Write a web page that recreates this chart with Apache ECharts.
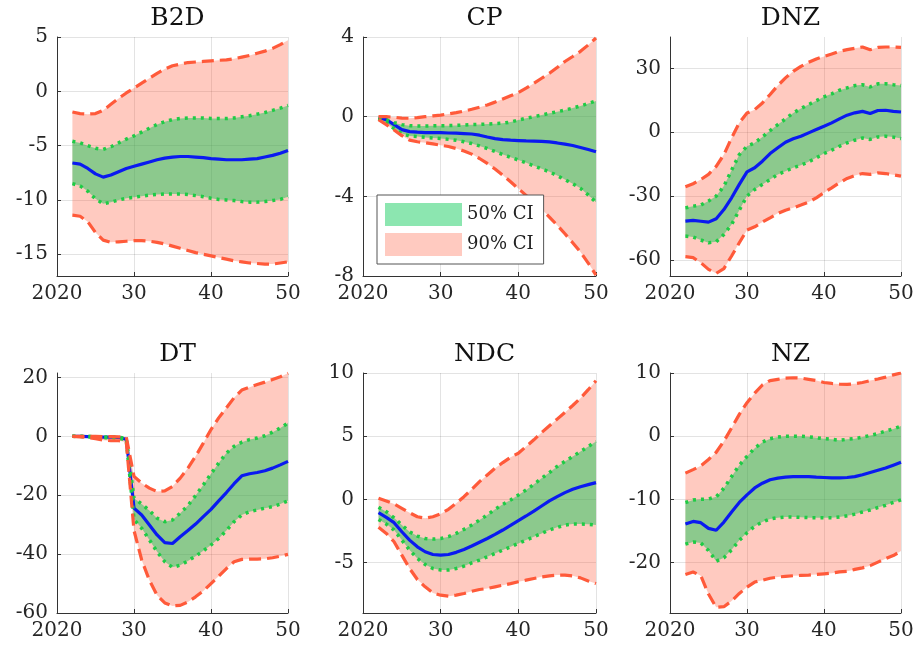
<!DOCTYPE html>
<html><head><meta charset="utf-8">
<script src="https://cdn.jsdelivr.net/npm/echarts@6/dist/echarts.min.js"></script>
<style>html,body{margin:0;padding:0;background:#fff}#c{width:917px;height:645px}</style>
</head><body><div id="c"></div>
<script>
// ---------- data ----------
const years = [2022,2023,2024,2025,2026,2027,2028,2029,2030,2031,2032,2033,2034,2035,2036,2037,2038,2039,2040,2041,2042,2043,2044,2045,2046,2047,2048,2049,2050];
const titles = ['B2D','CP','DNZ','DT','NDC','NZ'];
const xTicks = [2020,2030,2040,2050];

// B2D
const b2dMedian = [-6.6,-6.7,-7.1,-7.6,-7.9,-7.7,-7.4,-7.1,-6.9,-6.7,-6.5,-6.3,-6.15,-6.05,-6.0,-6.0,-6.05,-6.1,-6.2,-6.25,-6.3,-6.3,-6.3,-6.25,-6.2,-6.05,-5.9,-5.7,-5.45];
const b2dHi50 = [-4.6,-4.75,-5.0,-5.25,-5.35,-5.1,-4.75,-4.4,-4.1,-3.75,-3.4,-3.05,-2.8,-2.6,-2.5,-2.45,-2.45,-2.45,-2.5,-2.5,-2.5,-2.45,-2.35,-2.25,-2.1,-1.95,-1.75,-1.55,-1.3];
const b2dLo50 = [-8.5,-8.7,-9.2,-9.9,-10.35,-10.2,-10.0,-9.85,-9.75,-9.65,-9.55,-9.5,-9.45,-9.45,-9.45,-9.5,-9.6,-9.7,-9.85,-9.95,-10.0,-10.05,-10.15,-10.2,-10.2,-10.15,-10.05,-9.95,-9.7];
const b2dHi90 = [-1.9,-2.05,-2.1,-2.05,-1.75,-1.2,-0.65,-0.15,0.3,0.75,1.2,1.65,2.05,2.35,2.5,2.65,2.7,2.75,2.8,2.85,2.9,3.0,3.15,3.3,3.5,3.7,3.95,4.3,4.7];
const b2dLo90 = [-11.4,-11.5,-12.0,-13.0,-13.7,-13.9,-13.85,-13.8,-13.75,-13.75,-13.8,-13.9,-14.05,-14.25,-14.45,-14.65,-14.85,-15.0,-15.15,-15.3,-15.45,-15.6,-15.7,-15.8,-15.85,-15.9,-15.9,-15.8,-15.7];

// CP
const cpMedian = [-0.05,-0.15,-0.4,-0.65,-0.75,-0.78,-0.8,-0.8,-0.8,-0.82,-0.83,-0.85,-0.87,-0.93,-1.02,-1.1,-1.15,-1.18,-1.2,-1.22,-1.23,-1.24,-1.27,-1.32,-1.38,-1.45,-1.55,-1.65,-1.76];
const cpHi50 = [-0.05,-0.15,-0.3,-0.4,-0.45,-0.47,-0.47,-0.46,-0.45,-0.45,-0.44,-0.42,-0.4,-0.39,-0.37,-0.35,-0.33,-0.27,-0.17,-0.08,0.0,0.08,0.17,0.25,0.33,0.43,0.54,0.66,0.79];
const cpLo50 = [-0.1,-0.3,-0.6,-0.85,-0.97,-1.0,-1.04,-1.07,-1.1,-1.14,-1.18,-1.26,-1.35,-1.47,-1.6,-1.75,-1.9,-2.04,-2.18,-2.32,-2.47,-2.62,-2.77,-2.96,-3.16,-3.37,-3.6,-3.93,-4.3];
const cpHi90 = [0.0,0.0,-0.03,-0.07,-0.08,-0.05,0.0,0.04,0.08,0.14,0.2,0.28,0.37,0.47,0.59,0.73,0.89,1.05,1.21,1.43,1.68,1.93,2.18,2.47,2.77,3.02,3.28,3.6,3.95];
const cpLo90 = [-0.15,-0.4,-0.67,-0.95,-1.18,-1.26,-1.31,-1.37,-1.43,-1.5,-1.6,-1.72,-1.88,-2.1,-2.35,-2.63,-2.94,-3.27,-3.61,-3.95,-4.29,-4.65,-5.04,-5.45,-5.88,-6.33,-6.8,-7.35,-7.95];

// DNZ
const dnzMedian = [-41.7,-41.4,-41.8,-42.2,-40.6,-36.3,-30.8,-24.5,-18.6,-16.7,-13.6,-10.0,-7.3,-4.7,-3.1,-1.9,-0.3,1.25,2.8,4.4,6.25,8.0,9.1,9.8,8.75,10.2,10.3,9.8,9.5];
const dnzHi50 = [-35.5,-34.7,-34.2,-32.3,-30.0,-25.3,-17.8,-10.5,-6.6,-5.0,-2.2,0.8,3.6,6.25,9.0,11.1,13.0,14.8,16.6,18.0,19.7,20.8,21.9,22.3,21.25,22.7,22.8,22.3,21.9];
const dnzLo50 = [-48.75,-49.2,-50.6,-51.9,-51.4,-48.0,-43.3,-36.6,-30.0,-26.9,-24.5,-22.2,-19.8,-18.3,-16.7,-15.5,-13.9,-12.0,-10.0,-8.4,-6.6,-5.0,-3.75,-2.7,-3.4,-2.2,-1.9,-2.3,-3.0];
const dnzHi90 = [-25.6,-24.2,-22.2,-19.8,-16.0,-10.5,-2.7,4.4,9.0,10.6,13.75,17.7,21.9,25.5,28.6,30.9,32.8,34.4,35.6,36.7,38.0,38.75,39.4,40.0,38.75,39.8,40.0,40.0,39.8];
const dnzLo90 = [-58.4,-58.9,-61.25,-64.4,-66.25,-64.0,-58.1,-51.9,-45.9,-44.4,-42.2,-40.2,-38.1,-36.6,-35.5,-34.2,-32.8,-30.8,-28.4,-26.1,-23.75,-21.7,-20.3,-19.4,-19.8,-19.1,-19.4,-20.0,-20.6];

// DT
const dtMedian = [0,0,-0.1,-0.2,-0.3,-0.3,-0.4,-1.0,-24.4,-26.7,-30.1,-33.5,-36.1,-36.4,-34.1,-32.0,-29.8,-27.3,-24.8,-21.9,-19.1,-16.1,-13.4,-12.7,-12.3,-11.7,-10.8,-9.7,-8.5];
const dtHi50 = [0,0,0,-0.1,-0.2,-0.2,-0.3,-0.7,-21.0,-23.0,-25.2,-27.8,-29.0,-28.4,-26.1,-23.5,-20.1,-16.5,-12.7,-9.1,-5.7,-3.4,-2.0,-1.1,-0.6,0.2,1.4,2.8,4.5];
const dtLo50 = [0,-0.1,-0.2,-0.3,-0.5,-0.5,-0.6,-1.3,-28.2,-31.25,-35.2,-39.2,-42.6,-44.5,-43.75,-42.3,-40.7,-38.9,-36.9,-34.7,-32.0,-29.0,-26.7,-25.6,-25.0,-24.4,-23.9,-23.0,-21.9];
const dtHi90 = [0,0,0,0,-0.1,-0.1,-0.2,-0.3,-13.6,-15.9,-17.6,-18.75,-18.5,-17.0,-14.2,-10.8,-6.8,-2.3,2.3,6.25,9.7,13.1,15.7,16.7,17.6,18.4,19.3,20.2,21.4];
const dtLo90 = [0,-0.2,-0.4,-0.8,-1.3,-1.5,-1.5,-2.0,-32.0,-42.0,-48.9,-54.0,-56.6,-57.6,-57.4,-56.25,-54.5,-52.5,-50.0,-47.5,-44.9,-42.6,-41.8,-41.7,-41.7,-41.6,-41.25,-40.7,-40.1];

// NDC
const ndcMedian = [-1.06,-1.43,-1.85,-2.57,-3.23,-3.76,-4.15,-4.37,-4.42,-4.37,-4.2,-3.97,-3.7,-3.4,-3.1,-2.78,-2.43,-2.06,-1.69,-1.32,-0.93,-0.53,-0.13,0.21,0.53,0.79,1.0,1.16,1.32];
const ndcHi50 = [-0.63,-0.98,-1.46,-2.04,-2.57,-2.91,-3.1,-3.15,-3.1,-2.96,-2.7,-2.38,-2.04,-1.64,-1.24,-0.79,-0.4,-0.05,0.34,0.74,1.19,1.67,2.12,2.6,3.0,3.39,3.78,4.18,4.58];
const ndcLo50 = [-1.59,-1.96,-2.43,-3.23,-4.02,-4.68,-5.16,-5.48,-5.6,-5.6,-5.48,-5.29,-5.03,-4.81,-4.55,-4.29,-4.02,-3.76,-3.49,-3.23,-2.96,-2.7,-2.43,-2.22,-2.04,-1.96,-1.96,-1.98,-2.04];
const ndcHi90 = [0.08,-0.13,-0.37,-0.71,-1.06,-1.38,-1.5,-1.38,-1.16,-0.79,-0.32,0.21,0.79,1.4,1.93,2.46,2.91,3.33,3.65,4.18,4.71,5.29,5.82,6.35,6.88,7.43,8.0,8.68,9.39];
const ndcLo90 = [-2.22,-2.7,-3.36,-4.42,-5.48,-6.35,-6.93,-7.41,-7.59,-7.67,-7.59,-7.46,-7.28,-7.14,-7.06,-6.93,-6.8,-6.67,-6.53,-6.4,-6.27,-6.14,-6.06,-6.0,-6.0,-6.06,-6.22,-6.46,-6.67];

// NZ
const nzMedian = [-13.9,-13.5,-13.7,-14.6,-14.9,-13.6,-12.0,-10.5,-9.3,-8.2,-7.45,-6.9,-6.65,-6.5,-6.4,-6.4,-6.4,-6.5,-6.55,-6.6,-6.6,-6.55,-6.4,-6.1,-5.75,-5.4,-5.05,-4.6,-4.15];
const nzHi50 = [-10.5,-10.1,-10.0,-9.95,-9.6,-8.25,-6.4,-4.6,-3.2,-1.9,-0.95,-0.4,-0.15,0.0,0.0,0.0,-0.1,-0.25,-0.4,-0.5,-0.65,-0.5,-0.4,-0.15,0.1,0.4,0.8,1.15,1.6];
const nzLo50 = [-17.1,-16.75,-16.9,-18.1,-19.8,-19.25,-18.0,-16.5,-15.3,-14.25,-13.6,-13.1,-12.9,-12.8,-12.8,-12.85,-12.9,-12.9,-12.9,-12.9,-12.8,-12.6,-12.35,-12.0,-11.7,-11.3,-10.95,-10.5,-10.1];
const nzHi90 = [-5.85,-5.3,-4.7,-3.7,-2.55,-0.8,1.3,3.45,5.3,6.8,8.1,8.8,9.0,9.2,9.25,9.2,9.0,8.8,8.5,8.35,8.25,8.2,8.3,8.5,8.8,9.05,9.35,9.7,10.0];
const nzLo90 = [-21.9,-21.5,-22.1,-25.0,-27.1,-27.0,-26.1,-24.9,-23.9,-23.1,-22.8,-22.5,-22.3,-22.2,-22.1,-22.05,-22.0,-21.9,-21.8,-21.7,-21.5,-21.4,-21.1,-20.85,-20.5,-19.95,-19.4,-18.9,-18.2];

// y axis ranges and tick labels
const yMins = [-17, -8, -67.5, -60, -9, -28];
const yMaxs = [5, 4, 44.7, 21.5, 10, 10];
const yTicks = [[-15,-10,-5,0,5],[-8,-4,0,4],[-60,-30,0,30],[-60,-40,-20,0,20],[-5,0,5,10],[-20,-10,0,10]];

const panels = [
  [b2dMedian,b2dHi50,b2dLo50,b2dHi90,b2dLo90],
  [cpMedian,cpHi50,cpLo50,cpHi90,cpLo90],
  [dnzMedian,dnzHi50,dnzLo50,dnzHi90,dnzLo90],
  [dtMedian,dtHi50,dtLo50,dtHi90,dtLo90],
  [ndcMedian,ndcHi50,ndcLo50,ndcHi90,ndcLo90],
  [nzMedian,nzHi50,nzLo50,nzHi90,nzLo90]
];

// ---------- layout / style ----------
const gridBoxes = [
  {left:57, top:37, width:231, height:239},
  {left:363, top:37, width:233, height:239},
  {left:670, top:37, width:231, height:239},
  {left:57, top:373, width:231, height:240},
  {left:363, top:373, width:233, height:240},
  {left:670, top:373, width:231, height:240}
];
const FONT = 'DejaVu Serif';
const AX = '#333333';
const GRIDC = 'rgba(0,0,0,0.11)';
const PINK = 'rgba(255,90,60,0.32)';
const GREEN = 'rgba(0,200,80,0.45)';
const RED = '#FF5A3A';
const DOT = '#1FCB45';
const BLUE = '#0A1AF0';

const pair = (ys) => years.map((y,i)=>[y, ys[i]]);

function bandSeries(i, name, lo, hi, fill) {
  return {
    type:'custom', name, xAxisIndex:i, yAxisIndex:i, silent:true, animation:false,
    itemStyle:{color:fill},
    data: years.map((y,k)=>[y, lo[k], hi[k]]),
    encode:{x:0, y:[1,2]},
    renderItem: (params, api) => {
      if (params.dataIndex !== 0) return null;
      const pts = [];
      for (let k = 0; k < years.length; k++) pts.push(api.coord([years[k], hi[k]]));
      for (let k = years.length - 1; k >= 0; k--) pts.push(api.coord([years[k], lo[k]]));
      return {type:'polygon', shape:{points:pts}, style:{fill:fill, stroke:null}};
    }
  };
}

const grid = [], xAxis = [], yAxis = [], title = [], series = [];
gridBoxes.forEach((g,i)=>{
  grid.push(Object.assign({containLabel:false}, g));
  title.push({text: titles[i], left: g.left + g.width/2, top: g.top - 36, textAlign:'center',
    textStyle:{fontFamily:FONT, fontSize:25, fontWeight:'normal', color:'#111'}});
  xAxis.push({type:'value', gridIndex:i, min:2020, max:2050, interval:10,
    axisLine:{show:true, onZero:false, lineStyle:{color:AX, width:1}},
    axisTick:{show:true, inside:true, length:4, lineStyle:{color:AX}},
    splitLine:{show:true, lineStyle:{color:GRIDC, width:1}},
    axisLabel:{fontFamily:FONT, fontSize:20, color:'#262626', margin:8,
      formatter: v => v===2020 ? '2020' : String(v-2000)}});
  yAxis.push({type:'value', gridIndex:i, min:yMins[i], max:yMaxs[i],
    axisLine:{show:true, onZero:false, lineStyle:{color:AX, width:1}},
    axisTick:{show:true, inside:true, length:4, lineStyle:{color:AX}, customValues: yTicks[i]},
    splitLine:{show:true, lineStyle:{color:GRIDC, width:1}},
    axisLabel:{fontFamily:FONT, fontSize:20, color:'#262626', margin:9, customValues: yTicks[i]}});
  const [med, hi50, lo50, hi90, lo90] = panels[i];
  const base = {type:'line', xAxisIndex:i, yAxisIndex:i, showSymbol:false, symbol:'none', silent:true, animation:false};
  series.push(bandSeries(i, '90% CI', lo90, hi90, PINK));
  series.push(bandSeries(i, '50% CI', lo50, hi50, GREEN));
  series.push(Object.assign({}, base, {name:'median'+i, data:pair(med), lineStyle:{color:BLUE, width:3.2}}));
  series.push(Object.assign({}, base, {name:'hi50l'+i, data:pair(hi50), lineStyle:{color:DOT, width:3.5, type:[3,5], cap:'butt'}}));
  series.push(Object.assign({}, base, {name:'lo50l'+i, data:pair(lo50), lineStyle:{color:DOT, width:3.5, type:[3,5], cap:'butt'}}));
  series.push(Object.assign({}, base, {name:'hi90l'+i, data:pair(hi90), lineStyle:{color:RED, width:3.2, type:[12,6], cap:'butt'}}));
  series.push(Object.assign({}, base, {name:'lo90l'+i, data:pair(lo90), lineStyle:{color:RED, width:3.2, type:[12,6], cap:'butt'}}));
});

const chart = echarts.init(document.getElementById('c'), null, {renderer:'canvas'});
chart.setOption({
  animation:false,
  backgroundColor:'#ffffff',
  title, grid, xAxis, yAxis, series,
  legend:{
    show:true, orient:'vertical', left:377, top:195, selectedMode:false,
    itemWidth:77, itemHeight:23, itemGap:7, padding:[8,10,8,8],
    backgroundColor:'#ffffff', borderColor:'#555', borderWidth:1,
    textStyle:{fontFamily:FONT, fontSize:18, color:'#222'},
    data:[
      {name:'50% CI', icon:'rect', itemStyle:{color:GREEN, borderWidth:0}},
      {name:'90% CI', icon:'rect', itemStyle:{color:PINK, borderWidth:0}}
    ]
  }
});
</script></body></html>
